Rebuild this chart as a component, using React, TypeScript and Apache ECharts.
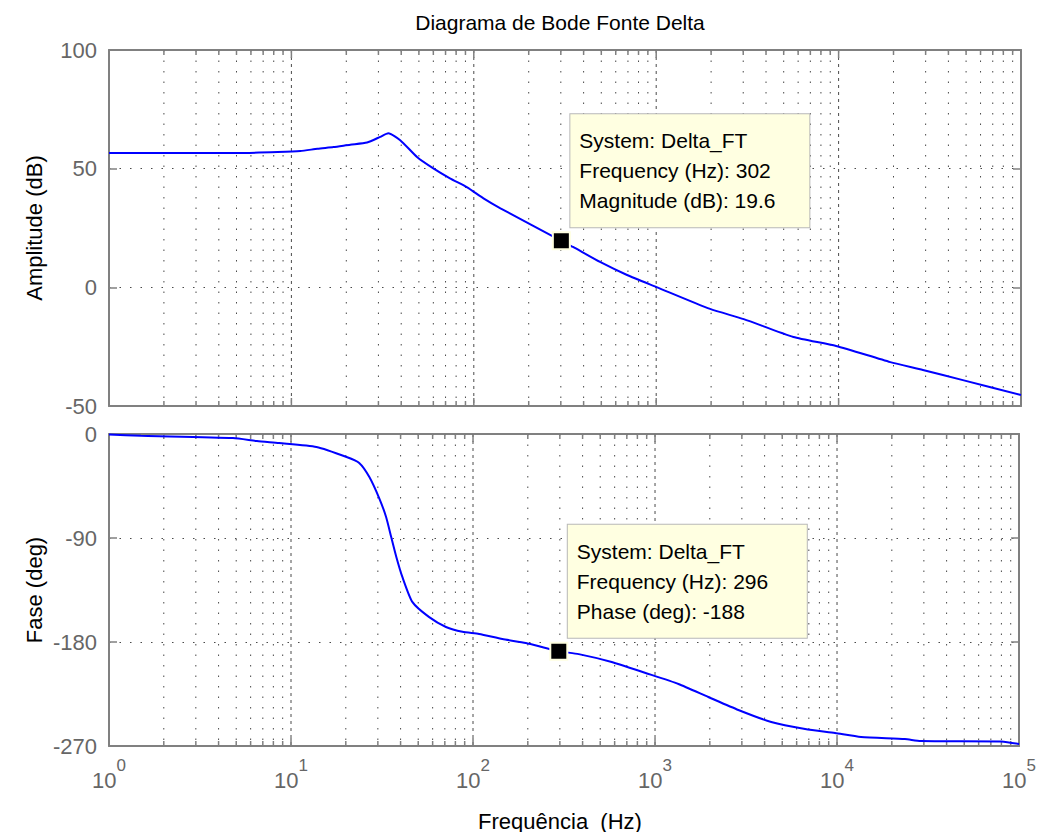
import React, { useEffect, useRef } from 'react';
import * as echarts from 'echarts';

const titleText = 'Diagrama de Bode Fonte Delta';
const xName = 'Frequência  (Hz)';
const magName = 'Amplitude (dB)';
const phaseName = 'Fase (deg)';
const xMin = 1;
const xMax = 100000;
const magMin = -50;
const magMax = 100;
const magStep = 50;
const phMin = -270;
const phMax = 0;
const phStep = 90;

const magFreq = [1, 5, 8.4, 11.2, 13.9, 17, 21, 26, 30.7, 34, 39.5, 49, 60, 74, 92, 113, 140, 302, 350, 492, 692, 1005, 1975, 3020, 5650, 9700, 19200, 29000, 48000, 100000];
const magDb = [56.6, 56.6, 57.0, 57.4, 58.4, 59.1, 60.1, 61.0, 63.4, 64.9, 62.0, 54.8, 50.1, 45.9, 42.1, 37.5, 33.3, 19.6, 17.0, 10.7, 5.2, 0.1, -9.1, -13.4, -20.9, -24.7, -31.5, -34.8, -39.1, -45.4];

const phFreq = [1, 1.5, 4.8, 6.5, 8.6, 13.8, 20.2, 23.7, 26.9, 30.5, 33.3, 35.5, 37.9, 40.9, 46.4, 57.2, 71, 87.5, 108, 145, 195, 239, 296, 381, 578, 887, 1345, 1963, 2870, 4350, 6680, 9750, 13550, 23600, 28800, 80000, 100000];
const phDeg = [-0.5, -1.5, -3.5, -6.1, -7.8, -11.2, -19.9, -25, -37, -55.4, -71.8, -89, -106.4, -123.7, -145.3, -158.3, -167, -171.2, -173, -177.4, -180.9, -184.3, -188, -190.5, -197.3, -206.8, -216.3, -227.6, -238.8, -249.2, -255.3, -258.8, -262.2, -264, -265.7, -266, -268.3];

const tipSystem = 'System: Delta_FT';
const magTipFreq = 302;
const magTipVal = 19.6;
const phTipFreq = 296;
const phTipVal = -188;

const gridMultipliers = [1, 2, 3, 4, 5, 6, 7, 8, 9];
const gridDecades = [0, 1, 2, 3, 4];

const FONT = '"Liberation Sans", Arial, sans-serif';
const AXIS_GRAY = '#808080';
const LABEL_GRAY = '#666666';
const DOT = '#4a4a4a';

export default function App() {
  const ref = useRef<HTMLDivElement>(null);

  useEffect(() => {
    if (!ref.current) return;
    const chart = echarts.init(ref.current, undefined, { renderer: 'svg' });

    const gridData: number[][] = [];
    gridDecades.forEach((d) => {
      gridMultipliers.forEach((m) => {
        gridData.push([m * Math.pow(10, d), 0, m]);
      });
    });
    gridData.push([xMax, 0, 1]);

    const renderGrid = (params: any, api: any) => {
      const f = api.value(0);
      const m = api.value(2);
      const p = api.coord([f, api.value(1)]);
      const cs = params.coordSys;
      const x = p[0];
      const major = m === 1;
      const children: any[] = [];
      if (f > xMin * 1.0001 && f < xMax * 0.9999) {
        children.push({
          type: 'line',
          shape: { x1: x, y1: cs.y, x2: x, y2: cs.y + cs.height },
          style: { stroke: DOT, lineWidth: 1, lineDash: major ? [3, 4] : [1.5, 9] },
        });
      }
      const len = major ? 8 : 5;
      children.push({
        type: 'line',
        shape: { x1: x, y1: cs.y, x2: x, y2: cs.y + len },
        style: { stroke: AXIS_GRAY, lineWidth: 1.5 },
      });
      children.push({
        type: 'line',
        shape: { x1: x, y1: cs.y + cs.height, x2: x, y2: cs.y + cs.height - len },
        style: { stroke: AXIS_GRAY, lineWidth: 1.5 },
      });
      return { type: 'group', children };
    };

    const xAxisBase = (gridIndex: number, position: string, labels: boolean) => ({
      type: 'log',
      logBase: 10,
      gridIndex,
      position,
      min: xMin,
      max: xMax,
      axisLine: { show: true, onZero: false, lineStyle: { color: AXIS_GRAY, width: 2 } },
      axisTick: { show: false },
      splitLine: { show: false },
      minorSplitLine: { show: false },
      axisLabel: labels
        ? {
            show: true,
            margin: 11,
            showMinLabel: true,
            showMaxLabel: true,
            formatter: (v: number) => `{b|10}{e|${Math.round(Math.log10(v))}}`,
            rich: {
              b: { fontSize: 22, fontFamily: FONT, color: LABEL_GRAY, verticalAlign: 'bottom' },
              e: { fontSize: 17, fontFamily: FONT, color: LABEL_GRAY, verticalAlign: 'top', padding: [0, 0, 17, 0] },
            },
          }
        : { show: false },
    });

    const yAxisBase = (gridIndex: number, position: string, min: number, max: number, step: number, labels: boolean) => ({
      type: 'value',
      gridIndex,
      position,
      min,
      max,
      interval: step,
      axisLine: { show: true, onZero: false, lineStyle: { color: AXIS_GRAY, width: 2 } },
      axisTick: { show: true, inside: true, length: 8, lineStyle: { color: AXIS_GRAY, width: 1.5 } },
      axisLabel: labels
        ? { show: true, margin: 12, fontSize: 22, fontFamily: FONT, color: LABEL_GRAY }
        : { show: false },
      splitLine: labels
        ? { show: true, lineStyle: { color: DOT, width: 1, type: [1.5, 9] } }
        : { show: false },
    });

    const tipLabel = (lines: string[]) => ({
      show: true,
      position: [18.5, -4],
      align: 'left',
      verticalAlign: 'bottom',
      formatter: lines.join('\n'),
      backgroundColor: '#ffffe1',
      borderColor: '#b8b8b8',
      borderWidth: 1,
      padding: [11.5, 10, 11.5, 9],
      width: 220,
      lineHeight: 30,
      fontSize: 21,
      fontFamily: FONT,
      color: '#000000',
    });

    const option: any = {
      animation: false,
      backgroundColor: '#ffffff',
      grid: [
        { left: 109, top: 50, width: 912, height: 356 },
        { left: 109, top: 434, width: 912, height: 312 },
      ],
      xAxis: [
        xAxisBase(0, 'bottom', false),
        xAxisBase(0, 'top', false),
        xAxisBase(1, 'bottom', true),
        xAxisBase(1, 'top', false),
      ],
      yAxis: [
        yAxisBase(0, 'left', magMin, magMax, magStep, true),
        yAxisBase(0, 'right', magMin, magMax, magStep, false),
        yAxisBase(1, 'left', phMin, phMax, phStep, true),
        yAxisBase(1, 'right', phMin, phMax, phStep, false),
      ],
      graphic: [
        {
          type: 'text',
          x: 560,
          y: 22,
          style: { text: titleText, fontSize: 21, fontFamily: FONT, fill: '#000', align: 'center', verticalAlign: 'middle', textAlign: 'center', textVerticalAlign: 'middle' },
        },
        {
          type: 'text',
          x: 560,
          y: 821,
          style: { text: xName, fontSize: 22, fontFamily: FONT, fill: '#000', align: 'center', verticalAlign: 'middle', textAlign: 'center', textVerticalAlign: 'middle' },
        },
        {
          type: 'text',
          x: 34,
          y: 228,
          rotation: Math.PI / 2,
          style: { text: magName, fontSize: 22, fontFamily: FONT, fill: '#000', align: 'center', verticalAlign: 'middle', textAlign: 'center', textVerticalAlign: 'middle' },
        },
        {
          type: 'text',
          x: 34,
          y: 590,
          rotation: Math.PI / 2,
          style: { text: phaseName, fontSize: 22, fontFamily: FONT, fill: '#000', align: 'center', verticalAlign: 'middle', textAlign: 'center', textVerticalAlign: 'middle' },
        },
      ],
      series: [
        {
          type: 'custom',
          xAxisIndex: 0,
          yAxisIndex: 0,
          silent: true,
          renderItem: renderGrid,
          data: gridData,
          z: 1,
        },
        {
          type: 'custom',
          xAxisIndex: 2,
          yAxisIndex: 2,
          silent: true,
          renderItem: renderGrid,
          data: gridData,
          z: 1,
        },
        {
          type: 'line',
          xAxisIndex: 0,
          yAxisIndex: 0,
          data: magFreq.map((f, i) => [f, magDb[i]]),
          showSymbol: false,
          smooth: 0.2,
          lineStyle: { color: '#0000ff', width: 2 },
          z: 3,
        },
        {
          type: 'line',
          xAxisIndex: 2,
          yAxisIndex: 2,
          data: phFreq.map((f, i) => [f, phDeg[i]]),
          showSymbol: false,
          smooth: 0.2,
          lineStyle: { color: '#0000ff', width: 2 },
          z: 3,
        },
        {
          type: 'scatter',
          xAxisIndex: 0,
          yAxisIndex: 0,
          data: [[magTipFreq, magTipVal]],
          symbol: 'rect',
          symbolSize: 17,
          itemStyle: { color: '#000000', borderColor: '#ffffe1', borderWidth: 2, opacity: 1 },
          label: tipLabel([tipSystem, `Frequency (Hz): ${magTipFreq}`, `Magnitude (dB): ${magTipVal}`]),
          z: 5,
        },
        {
          type: 'scatter',
          xAxisIndex: 2,
          yAxisIndex: 2,
          data: [[phTipFreq, phTipVal]],
          symbol: 'rect',
          symbolSize: 17,
          itemStyle: { color: '#000000', borderColor: '#ffffe1', borderWidth: 2, opacity: 1 },
          label: tipLabel([tipSystem, `Frequency (Hz): ${phTipFreq}`, `Phase (deg): ${phTipVal}`]),
          z: 5,
        },
      ],
    };

    chart.setOption(option);
    return () => chart.dispose();
  }, []);

  return (
    <div
      ref={ref}
      style={{ position: 'absolute', left: 0, top: 0, width: 1039, height: 832, background: '#fff' }}
    />
  );
}
